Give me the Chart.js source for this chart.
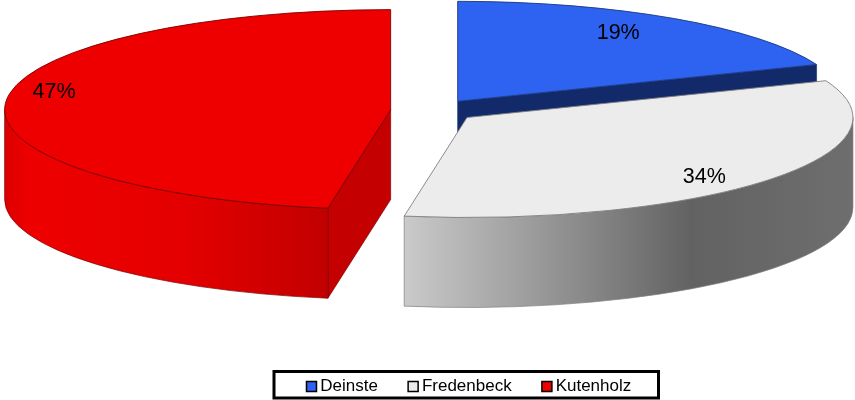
<!DOCTYPE html>
<html>
<head>
<meta charset="utf-8">
<script src="https://cdn.jsdelivr.net/npm/chart.js@4"></script>
<style>
  html, body { margin: 0; padding: 0; background: #fff; }
  canvas { display: block; }
</style>
</head>
<body>
<canvas id="canvas" width="855" height="400"></canvas>
<script>
const categories = ["Deinste", "Fredenbeck", "Kutenholz"];
const shares = [19, 33.6, 47.4];

const TOP_COLORS = ["#2e62f0", "#ececec", "#ee0000"];
const BORDER_COLORS = ["#1c3a80", "#7f7f7f", "#7a0000"];
const CUT_COLORS = ["#122a6a", "#8a8a8a", "#c40000"];

// the 3d look: a flat pie squashed in y, then pushed down by DEPTH
const PIE_CX = 433.5;
const PIE_CY = 110.5;
const RADIUS = 386;
const SQUASH = 0.259;
const DEPTH = 90;
const EXPLODE = 43;
const LABEL_RADIUS = [0.74, 0.79, 0.875];
const LABEL_SHIFT = [-7, 10, -10];
const LEGEND_TOP = 343;

const sideGradient = (ctx, i, left, right) => {
  const g = ctx.createLinearGradient(left, 0, right, 0);
  if (i === 1) {
    g.addColorStop(0, "#cacaca");
    g.addColorStop(0.64, "#626262");
    g.addColorStop(1, "#6e6e6e");
  } else if (i === 2) {
    g.addColorStop(0, "#dc0000");
    g.addColorStop(0.08, "#ee0000");
    g.addColorStop(0.55, "#e40000");
    g.addColorStop(1, "#c20000");
  } else {
    g.addColorStop(0, CUT_COLORS[i]);
    g.addColorStop(1, CUT_COLORS[i]);
  }
  return g;
};

const drawCut = (ctx, ax, ay, angle, color, border) => {
  const ex = ax + RADIUS * Math.cos(angle);
  const ey = ay + RADIUS * SQUASH * Math.sin(angle);
  ctx.beginPath();
  ctx.moveTo(ax, ay);
  ctx.lineTo(ex, ey);
  ctx.lineTo(ex, ey + DEPTH);
  ctx.lineTo(ax, ay + DEPTH);
  ctx.closePath();
  ctx.fillStyle = color;
  ctx.fill();
  ctx.strokeStyle = border;
  ctx.lineWidth = 0.7;
  ctx.stroke();
};

const pie3d = {
  id: "pie3d",
  afterLayout(chart) {
    // labels.padding also pads the legend in y, so put it back by hand
    const legend = chart.legend;
    legend.bottom = LEGEND_TOP + legend.height;
    legend.top = LEGEND_TOP;
  },
  beforeDatasetDraw(chart, args) {
    const ctx = chart.ctx;
    const arcs = args.meta.data;
    arcs.forEach((arc, i) => {
      const { x, y, startAngle, endAngle } = arc;
      const mid = (startAngle + endAngle) / 2;
      const ax = PIE_CX + Math.cos(mid) * EXPLODE;
      const ay = PIE_CY + Math.sin(mid) * EXPLODE * SQUASH;

      if (Math.cos(startAngle) < -0.01) {
        drawCut(ctx, ax, ay, startAngle, CUT_COLORS[i], BORDER_COLORS[i]);
      }
      if (Math.cos(endAngle) > 0.01) {
        drawCut(ctx, ax, ay, endAngle, CUT_COLORS[i], BORDER_COLORS[i]);
      }

      // outer wall, only the part facing the viewer
      const from = Math.max(startAngle, 0);
      const to = Math.min(endAngle, Math.PI);
      if (to > from) {
        ctx.beginPath();
        ctx.ellipse(ax, ay, RADIUS, RADIUS * SQUASH, 0, from, to);
        ctx.ellipse(ax, ay + DEPTH, RADIUS, RADIUS * SQUASH, 0, to, from, true);
        ctx.closePath();
        const lx = ax + RADIUS * Math.cos(to);
        const rx = ax + RADIUS * Math.cos(from);
        ctx.fillStyle = sideGradient(ctx, i, lx, rx);
        ctx.fill();
        ctx.strokeStyle = BORDER_COLORS[i];
        ctx.lineWidth = 0.7;
        ctx.stroke();
      }

      ctx.save();
      ctx.translate(ax, ay);
      ctx.scale(1, SQUASH);
      ctx.translate(-x, -y);
      arc.draw(ctx);
      ctx.restore();

      // outline in screen space, a scaled border would go too thin
      ctx.beginPath();
      ctx.moveTo(ax, ay);
      ctx.ellipse(ax, ay, RADIUS, RADIUS * SQUASH, 0, startAngle, endAngle);
      ctx.closePath();
      ctx.strokeStyle = BORDER_COLORS[i];
      ctx.lineWidth = 0.9;
      ctx.stroke();
    });

    ctx.fillStyle = "#000";
    ctx.font = '21.5px "Liberation Sans"';
    ctx.textAlign = "center";
    ctx.textBaseline = "middle";
    arcs.forEach((arc, i) => {
      const mid = (arc.startAngle + arc.endAngle) / 2;
      const ax = PIE_CX + Math.cos(mid) * EXPLODE;
      const ay = PIE_CY + Math.sin(mid) * EXPLODE * SQUASH;
      const lx = ax + Math.cos(mid) * RADIUS * LABEL_RADIUS[i];
      const ly = ay + Math.sin(mid) * RADIUS * SQUASH * LABEL_RADIUS[i] + LABEL_SHIFT[i];
      ctx.fillText(Math.round(shares[i]) + "%", lx, ly);
    });
    return false;
  },
  afterDraw(chart) {
    const ctx = chart.ctx;
    ctx.save();
    ctx.strokeStyle = "#000";
    ctx.lineWidth = 3;
    ctx.strokeRect(274, 371.5, 384.5, 26.5);
    ctx.restore();
  },
};

new Chart(document.getElementById("canvas"), {
  type: "pie",
  data: {
    labels: categories,
    datasets: [
      {
        data: shares,
        backgroundColor: TOP_COLORS,
        borderWidth: 0,
        radius: RADIUS,
        clip: false,
      },
    ],
  },
  options: {
    responsive: false,
    animation: false,
    layout: { padding: { left: 87.5 } },
    plugins: {
      tooltip: { enabled: false },
      legend: {
        position: "bottom",
        labels: {
          color: "#000",
          font: { family: '"Liberation Sans"', size: 17 },
          usePointStyle: true,
          pointStyle: "rect",
          boxWidth: 0.5,
          boxHeight: 10,
          padding: 35,
          generateLabels: (chart) =>
            Chart.overrides.pie.plugins.legend.labels
              .generateLabels(chart)
              .map((item) => ({ ...item, strokeStyle: "#000", lineWidth: 1.5 })),
        },
      },
    },
  },
  plugins: [pie3d],
});
</script>
</body>
</html>
